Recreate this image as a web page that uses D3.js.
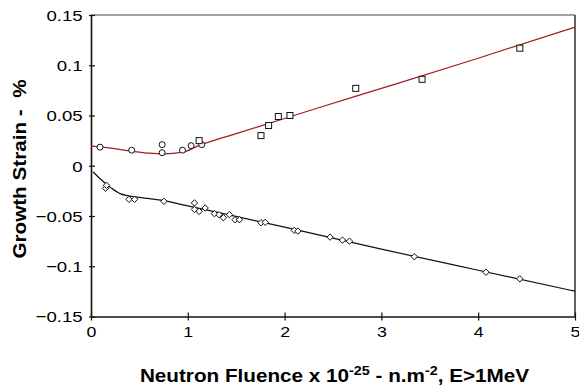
<!DOCTYPE html>
<html>
<head>
<meta charset="utf-8">
<script src="https://cdn.jsdelivr.net/npm/d3@7"></script>
<style>
  body { margin: 0; background: #fff; }
  svg text { font-family: "Liberation Sans", Arial, sans-serif; }
</style>
</head>
<body>
<svg id="chart" width="579" height="388"></svg>
<script>
// circles - low fluence upper series
var circleX = [0.093, 0.42, 0.735, 0.735, 0.945, 1.034, 1.144];
var circleY = [0.0185, 0.0155, 0.021, 0.013, 0.0155, 0.020, 0.021];
// squares - upper series
var squareX = [1.117, 1.756, 1.835, 1.935, 2.055, 2.735, 3.42, 4.43];
var squareY = [0.025, 0.030, 0.040, 0.049, 0.050, 0.077, 0.086, 0.117];
// diamonds - lower series
var diamondX = [0.151, 0.16, 0.392, 0.45, 0.753, 1.069, 1.069, 1.117, 1.179, 1.275, 1.323, 1.368,
    1.43, 1.488, 1.533, 1.756, 1.80, 2.10, 2.137, 2.47, 2.598, 2.67, 3.34, 4.08, 4.43];
var diamondY = [-0.0224, -0.0195, -0.0334, -0.0334, -0.0354, -0.037, -0.0434, -0.0454, -0.042, -0.0477, -0.0487, -0.0517,
    -0.0487, -0.0537, -0.0537, -0.0567, -0.0563, -0.0643, -0.065, -0.071, -0.074, -0.075, -0.0905, -0.1059, -0.1125];
// fitted curves
var upperFitX = [0, 0.2, 0.42, 0.6, 0.75, 0.95, 1.1, 1.5, 2.0, 2.36, 3, 4, 5];
var upperFitY = [0.0198, 0.0175, 0.0145, 0.0125, 0.0118, 0.0135, 0.0195, 0.032, 0.047, 0.058, 0.077, 0.107, 0.138];
var lowerFitX = [0.02, 0.1, 0.2, 0.3, 0.5, 0.75, 1, 2, 3, 4, 5];
var lowerFitY = [-0.006, -0.0135, -0.0215, -0.0277, -0.0315, -0.0347, -0.040, -0.061, -0.083, -0.104, -0.1248];
var xTicks = [0, 1, 2, 3, 4, 5];
var yTicks = [-0.15, -0.1, -0.05, 0, 0.05, 0.1, 0.15];

var pLeft = 91, pRight = 575, pTop = 15, pBottom = 316.5;
var svg = d3.select("#chart");

var x = d3.scaleLinear().domain([0, 5]).range([pLeft, pRight]);
var y = d3.scaleLinear().domain([-0.15, 0.15]).range([pBottom, pTop]);

// frame top / right
svg.append("line").attr("x1", pLeft).attr("x2", pRight).attr("y1", pTop).attr("y2", pTop)
    .attr("stroke", "#444").attr("stroke-width", 1.2);
svg.append("line").attr("x1", pRight).attr("x2", pRight).attr("y1", pTop).attr("y2", pBottom)
    .attr("stroke", "#222").attr("stroke-width", 1.4);

var xAxis = d3.axisBottom(x).tickValues(xTicks).tickSize(0)
    .tickFormat(function (d) { return d; });
var yAxis = d3.axisLeft(y).tickValues(yTicks).tickSize(0)
    .tickFormat(function (d) { return d3.format("")(+d.toFixed(2)); });

var gx = svg.append("g").attr("transform", "translate(0," + pBottom + ")").call(xAxis);
gx.select(".domain").attr("stroke", "#111").attr("stroke-width", 1.6);
gx.selectAll(".tick line").attr("y1", -4).attr("y2", 4).attr("stroke", "#111").attr("stroke-width", 1.2);
gx.selectAll("text").style("font-size", "15.5px").attr("fill", "#000")
    .attr("y", 10).attr("dy", "0.71em").attr("transform", "scale(1.15,1)");

var gy = svg.append("g").attr("transform", "translate(" + pLeft + ",0)").call(yAxis);
gy.select(".domain").attr("stroke", "#111").attr("stroke-width", 1.6);
gy.selectAll(".tick line").attr("x1", -2).attr("x2", 4).attr("stroke", "#111").attr("stroke-width", 1.2);
gy.selectAll("text").style("font-size", "15.5px").attr("fill", "#000")
    .attr("x", -7).attr("dy", "0.35em").attr("transform", "scale(1.2,1)");

// fit lines
var line = d3.line().x(function (d) { return x(d[0]); }).y(function (d) { return y(d[1]); })
    .curve(d3.curveMonotoneX);
svg.append("path").datum(d3.zip(upperFitX, upperFitY)).attr("d", line)
    .attr("fill", "none").attr("stroke", "#a01e1e").attr("stroke-width", 1.2);
svg.append("path").datum(d3.zip(lowerFitX, lowerFitY)).attr("d", line)
    .attr("fill", "none").attr("stroke", "#111").attr("stroke-width", 1.2);

// markers
svg.selectAll("circle.pt").data(d3.zip(circleX, circleY)).enter().append("circle")
    .attr("class", "pt").attr("cx", function (d) { return x(d[0]); }).attr("cy", function (d) { return y(d[1]); })
    .attr("r", 3).attr("fill", "#fff").attr("stroke", "#111").attr("stroke-width", 1);
svg.selectAll("rect.pt").data(d3.zip(squareX, squareY)).enter().append("rect")
    .attr("class", "pt").attr("x", function (d) { return x(d[0]) - 3; }).attr("y", function (d) { return y(d[1]) - 3; })
    .attr("width", 6).attr("height", 6).attr("fill", "#fff").attr("stroke", "#111").attr("stroke-width", 1);
var diamond = d3.symbol().type(d3.symbolDiamond2).size(26);
svg.selectAll("path.dm").data(d3.zip(diamondX, diamondY)).enter().append("path")
    .attr("class", "dm").attr("d", diamond)
    .attr("transform", function (d) { return "translate(" + x(d[0]) + "," + y(d[1]) + ")"; })
    .attr("fill", "#fff").attr("stroke", "#111").attr("stroke-width", 1);

// axis titles
var xt = svg.append("text").attr("transform", "translate(334.5,382) scale(1.15,1)").attr("text-anchor", "middle")
    .style("font-size", "18px").style("font-weight", "bold");
xt.append("tspan").text("Neutron Fluence x 10");
xt.append("tspan").attr("dy", -7).style("font-size", "12.5px").text("-25");
xt.append("tspan").attr("dy", 7).text(" - n.m");
xt.append("tspan").attr("dy", -7).style("font-size", "12.5px").text("-2");
xt.append("tspan").attr("dy", 7).text(", E>1MeV");

svg.append("text").attr("transform", "translate(26,169) rotate(-90) scale(1.15,1)").attr("text-anchor", "middle")
    .attr("xml:space", "preserve")
    .style("font-size", "18px").style("font-weight", "bold").text("Growth Strain -  %");
</script>
</body>
</html>
